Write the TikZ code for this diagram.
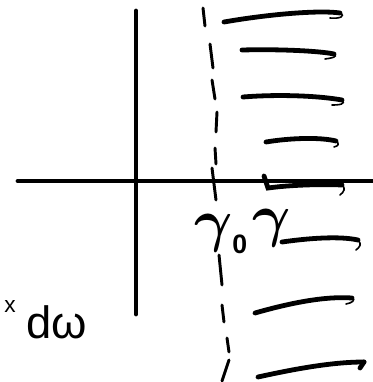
\RequirePackage{fix-cm}
\documentclass[tikz,border=0pt]{standalone}
\usepackage{amsmath}
\usepackage{fontspec}
\setmainfont{Liberation Sans}
\begin{document}
\begin{tikzpicture}[x=0.75pt,y=-0.75pt,line cap=round,
    axis/.style={line width=3.6pt},
    pen/.style={line width=3.6pt},
    hook/.style={line width=1.2pt},
    dashpen/.style={line width=2.2pt},
    greek/.style={font=\fontsize{44}{44}\selectfont,inner sep=0pt}]
    \useasboundingbox (0,0) rectangle (373,382);

    % axes
    \draw[axis] (18,181) -- (373,181);
    \draw[axis] (136,11) -- (136,314);

    % dashed line
    \foreach \xa/\ya/\xb/\yb in {203/8/205/26, 210/44/213/68, 212/80/215/99,
        217/112/216/132, 215/148/216/164, 212/168/216/200, 219/255/222/285,
        222/305/224/322, 227/338/229/352, 229/360/222/381}
        \draw[dashpen] (\xa,\ya) -- (\xb,\yb);

    % hatching
    \draw[pen] (224,22) .. controls (270,14) and (320,10) .. (340,13);
    \draw[hook] (340,13) .. controls (346,16) and (340,19) .. (330,18);
    \draw[pen] (242,50) .. controls (280,49) and (320,51) .. (334,54);
    \draw[hook] (334,54) .. controls (338,57) and (332,58) .. (325,59);
    \draw[pen] (243,97) .. controls (280,94) and (320,96) .. (342,100);
    \draw[hook] (342,100) .. controls (346,104) and (340,105) .. (332,105);
    \draw[pen] (266,142) .. controls (290,138) and (320,137) .. (336,141);
    \draw[hook] (336,141) .. controls (340,144) and (338,146) .. (334,147);
    \draw[pen] (264,176) -- (268,188) .. controls (290,185) and (320,184) .. (342,185);
    \draw[hook] (342,185) .. controls (346,188) and (344,192) .. (340,195);
    \draw[pen] (282,242) .. controls (310,238) and (340,236) .. (358,240);
    \draw[hook] (358,240) .. controls (362,244) and (360,247) .. (356,250);
    \draw[pen] (255,313) .. controls (290,303) and (325,296) .. (352,298);
    \draw[hook] (352,298) .. controls (356,300) and (352,303) .. (346,304);
    \draw[pen] (258,377) .. controls (290,370) and (330,362) .. (364,362);
    \draw[pen] (364,362) -- (360,368);

    % labels
    \node[greek] (gz) at (221,234)
        {$\boldsymbol{\gamma}_{\text{\fontsize{20}{20}\selectfont\bfseries 0}}$};
    \node[greek] (g) at (272,228) {$\boldsymbol{\gamma}$};
    \node[anchor=base west,inner sep=0pt] (dw) at (26,338)
        {\fontsize{34}{34}\selectfont dω};
    \node[anchor=base west,inner sep=0pt] (xs) at (4,312)
        {\fontsize{17}{17}\selectfont x};
\end{tikzpicture}
\end{document}
